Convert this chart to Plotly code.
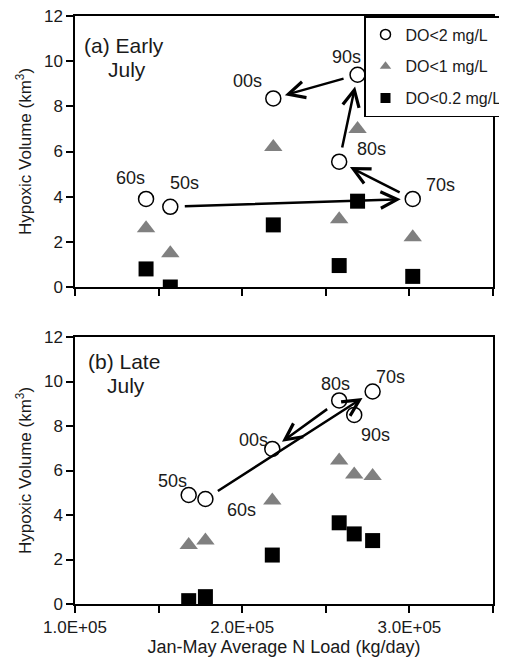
import plotly.graph_objects as go

decades = ["50s", "60s", "70s", "80s", "90s", "00s"]

# (a) Early July
early_load = [1.57e5, 1.425e5, 3.02e5, 2.58e5, 2.69e5, 2.186e5]
early_do2 = [3.55, 3.9, 3.9, 5.55, 9.4, 8.35]
early_do1 = [1.5, 2.6, 2.2, 3.0, 7.0, 6.2]
early_do02 = [0.0, 0.8, 0.47, 0.95, 3.8, 2.75]

# (b) Late July
late_load = [1.68e5, 1.78e5, 2.78e5, 2.58e5, 2.67e5, 2.18e5]
late_do2 = [4.9, 4.72, 9.55, 9.15, 8.5, 6.97]
late_do1 = [2.65, 2.85, 5.75, 6.45, 5.82, 4.65]
late_do02 = [0.15, 0.33, 2.85, 3.65, 3.15, 2.2]

early_arrows = [("50s", "70s"), ("70s", "80s"), ("80s", "90s"), ("90s", "00s")]
late_arrows = [("60s", "70s"), ("80s", "00s")]

series_names = ["DO<2 mg/L", "DO<1 mg/L", "DO<0.2 mg/L"]

xtick_vals = [1.0e5, 1.5e5, 2.0e5, 2.5e5, 3.0e5, 3.5e5]
xtick_text = ["1.0E+05", "", "2.0E+05", "", "3.0E+05", ""]
ytick_vals = [0, 2, 4, 6, 8, 10, 12]

# label offsets in px (dx, dy screen-down)
early_lab_off = {"50s": (14, -24), "60s": (-16, -21), "70s": (28, -14),
                 "80s": (32, -13), "90s": (-11, -18), "00s": (-26, -17)}
late_lab_off = {"50s": (-16, -14), "60s": (36, 11), "70s": (18, -15),
                "80s": (-4, -16), "90s": (21, 20), "00s": (-19, -9)}

FONT = "Liberation Sans, Arial, sans-serif"
TXT = "#1a1a1a"

# the page body has an 8px default margin; lay the figure out in page pixels
OFF = 8
PAGE_W, PAGE_H = 507, 660
W, H = PAGE_W - OFF, PAGE_H - OFF
PL, PR, PT, PB = 75, 493, 16, 604          # plot box in page pixels
ML, MR, MT, MB = PL - OFF, PAGE_W - PR, PT - OFF, PAGE_H - PB
pw, ph = W - ML - MR, H - MT - MB


def px2paper(px, py):
    return (px - PL) / pw, (PB - py) / ph


styles = [
    dict(symbol="circle", color="white", line=dict(color="black", width=1.5)),
    dict(symbol="triangle-up", color="#808080", line=dict(width=0)),
    dict(symbol="square", color="black", line=dict(width=0)),
]
plot_sizes = [15, 16, 15]
legend_sizes = [10, 10, 10]

fig = go.Figure()

panels = [
    ("x", "y", early_load, [early_do2, early_do1, early_do02]),
    ("x2", "y2", late_load, [late_do2, late_do1, late_do02]),
]

for xa, ya, load, vals in panels:
    for si in [2, 1, 0]:
        fig.add_trace(go.Scatter(
            x=load, y=vals[si], mode="markers", name=series_names[si],
            marker=dict(size=plot_sizes[si], **styles[si]),
            xaxis=xa, yaxis=ya, showlegend=False, hoverinfo="skip"))

# legend entries (smaller swatches, like the reference legend)
for si in range(3):
    fig.add_trace(go.Scatter(
        x=[None], y=[None], mode="markers", name=series_names[si],
        marker=dict(size=legend_sizes[si], **styles[si]),
        legendgroup=series_names[si], showlegend=True))

annotations = []
for (xa, ya, load, vals), arrows, offs in [
        (panels[0], early_arrows, early_lab_off),
        (panels[1], late_arrows, late_lab_off)]:
    do2 = vals[0]
    for d, xv, yv in zip(decades, load, do2):
        dx, dy = offs[d]
        annotations.append(dict(x=xv, y=yv, xref=xa, yref=ya, text=d, showarrow=False,
                                xshift=dx, yshift=-dy,
                                font=dict(family=FONT, size=18, color=TXT)))
    for a, b in arrows:
        ia, ib = decades.index(a), decades.index(b)
        annotations.append(dict(x=load[ib], y=do2[ib], ax=load[ia], ay=do2[ia],
                                xref=xa, yref=ya, axref=xa, ayref=ya, text="",
                                showarrow=True, arrowhead=5, arrowsize=1.3,
                                arrowwidth=2.5, arrowcolor="black",
                                standoff=12, startstandoff=13))

panel_texts = [("(a) Early", 82, 46), ("July", 106, 69), ("(b) Late", 86, 361), ("July", 105, 386)]
for t, px, py in panel_texts:
    xx, yy = px2paper(px, py)
    annotations.append(dict(x=xx, y=yy, xref="paper", yref="paper", text=t,
                            showarrow=False, xanchor="left", yanchor="middle",
                            font=dict(family=FONT, size=21, color=TXT)))

top_dom = [px2paper(0, 287)[1], 1.0]
bot_dom = [0.0, px2paper(0, 337)[1]]

axis_common = dict(showline=True, linecolor="black", linewidth=1.5, mirror=True,
                   showgrid=False, zeroline=False, ticks="outside", ticklen=7,
                   tickwidth=1.5, tickcolor="black", automargin=False,
                   ticklabeloverflow="allow",
                   tickfont=dict(family=FONT, size=17, color=TXT))

ytitle = dict(text="Hypoxic Volume (km<sup>3</sup>)", standoff=8,
              font=dict(family=FONT, size=17, color=TXT))

fig.update_layout(
    width=W, height=H,
    margin=dict(l=ML, r=MR, t=MT, b=MB, autoexpand=False),
    paper_bgcolor="white", plot_bgcolor="white",
    font=dict(family=FONT, color=TXT),
    showlegend=True,
    legend=dict(x=px2paper(364, 0)[0], y=1.0, xanchor="left", yanchor="top",
                bgcolor="white", bordercolor="black", borderwidth=1.5,
                font=dict(family=FONT, size=16, color=TXT),
                traceorder="grouped", tracegroupgap=8, itemsizing="trace",
                itemwidth=30),
    xaxis=dict(domain=[0, 1], range=[1.0e5, 3.5e5], anchor="y",
               tickvals=xtick_vals, ticktext=[""] * len(xtick_vals), **axis_common),
    yaxis=dict(domain=top_dom, range=[0, 12], anchor="x", tickvals=ytick_vals,
               title=ytitle, **axis_common),
    xaxis2=dict(domain=[0, 1], range=[1.0e5, 3.5e5], anchor="y2",
                tickvals=xtick_vals, ticktext=xtick_text,
                title=dict(text="Jan-May Average N Load (kg/day)", standoff=3,
                           font=dict(family=FONT, size=18, color=TXT)), **axis_common),
    yaxis2=dict(domain=bot_dom, range=[0, 12], anchor="x2", tickvals=ytick_vals,
                title=ytitle, **axis_common),
    annotations=annotations,
)

fig.write_html("out.html")
